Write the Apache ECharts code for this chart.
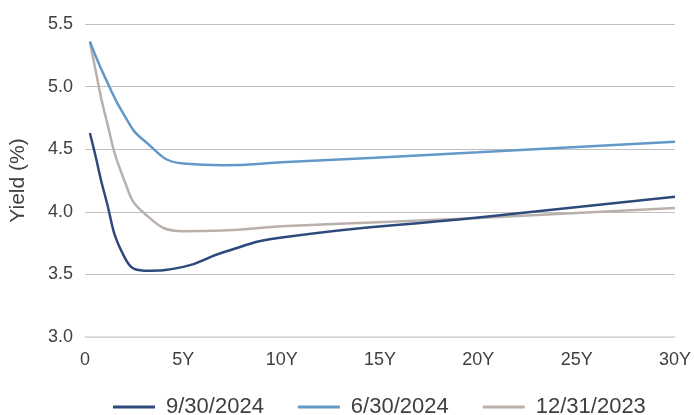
<!DOCTYPE html>
<html>
<head>
<meta charset="utf-8">
<script src="https://cdn.jsdelivr.net/npm/echarts@6/dist/echarts.min.js"></script>
<style>
  html, body { margin: 0; padding: 0; background: #fff; }
  #chart { width: 694px; height: 415px; }
</style>
</head>
<body>
<div id="chart"></div>
<script>
// Maturities in years
const tenors = [0.25, 0.5, 1, 2, 3, 5, 7, 10, 20, 30];

// Yield curves (%)
const sep2024 = [4.63, 4.47, 4.14, 3.64, 3.53, 3.56, 3.675, 3.795, 3.955, 4.12];
const jun2024 = [5.36, 5.26, 5.08, 4.77, 4.57, 4.385, 4.372, 4.395, 4.475, 4.56];
const dec2023 = [5.36, 5.16, 4.79, 4.25, 3.99, 3.845, 3.85, 3.885, 3.95, 4.03];

const seriesNames = ['9/30/2024', '6/30/2024', '12/31/2023'];
const seriesColors = ['#2E4A7D', '#6399C8', '#BAB0AC'];
const xTickLabels = { 0: '0', 5: '5Y', 10: '10Y', 15: '15Y', 20: '20Y', 25: '25Y', 30: '30Y' };

const pairs = ys => tenors.map((t, i) => [t, ys[i]]);
const allData = [sep2024, jun2024, dec2023];

const font = 'Liberation Sans, Arial, sans-serif';
const chart = echarts.init(document.getElementById('chart'), null, { renderer: 'canvas' });

chart.setOption({
  animation: false,
  backgroundColor: '#ffffff',
  textStyle: { fontFamily: font },
  grid: { left: 85, right: 4, top: 24, bottom: 78, containLabel: false },
  xAxis: {
    type: 'value',
    min: 0,
    max: 30,
    interval: 5,
    axisLine: { show: true, lineStyle: { color: '#d9d9d9', width: 1.5 } },
    axisTick: { show: false },
    splitLine: { show: false },
    axisLabel: {
      color: '#404040',
      fontSize: 18,
      fontFamily: font,
      margin: 14,
      formatter: v => xTickLabels[v] !== undefined ? xTickLabels[v] : ''
    }
  },
  yAxis: {
    type: 'value',
    min: 3.0,
    max: 5.5,
    interval: 0.5,
    name: 'Yield (%)',
    nameLocation: 'middle',
    nameGap: 56,
    nameTextStyle: { color: '#404040', fontSize: 21, fontFamily: font },
    axisLine: { show: false },
    axisTick: { show: false },
    splitLine: { show: true, lineStyle: { color: '#bfbfbf', width: 1 } },
    axisLabel: {
      color: '#404040',
      fontSize: 18,
      fontFamily: font,
      margin: 12,
      formatter: v => v.toFixed(1)
    }
  },
  legend: {
    top: 391,
    left: 108,
    icon: 'rect',
    itemWidth: 42,
    itemHeight: 3,
    itemGap: 34,
    textStyle: { color: '#404040', fontSize: 22, fontFamily: font, padding: [0, 0, 0, 6] },
    data: seriesNames
  },
  series: seriesNames.map((name, i) => ({
    name: name,
    type: 'line',
    data: pairs(allData[i]),
    smooth: 0.5,
    showSymbol: false,
    symbol: 'none',
    lineStyle: { color: seriesColors[i], width: 2.5 },
    itemStyle: { color: seriesColors[i] },
    z: 3 - i
  }))
});
</script>
</body>
</html>
